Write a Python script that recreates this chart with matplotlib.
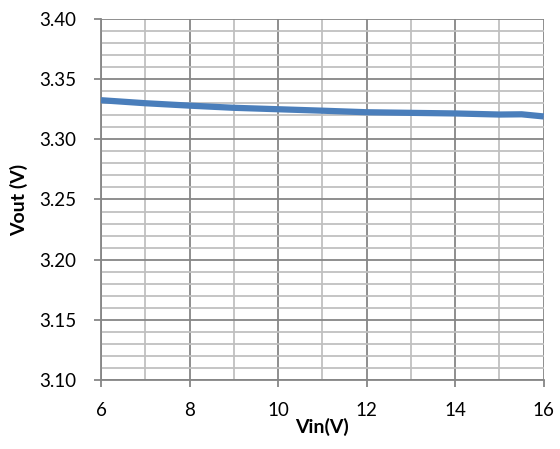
import matplotlib
matplotlib.use('Agg')
import matplotlib.pyplot as plt
from matplotlib.ticker import MultipleLocator

# Данные
vin = [6, 7, 8, 9, 10, 11, 12, 13, 14, 15, 15.5, 16]
vout = [3.3325, 3.3300, 3.3280, 3.3262, 3.3250, 3.3238, 3.3225, 3.3220, 3.3215, 3.3206, 3.3208, 3.3190]

plt.rcParams['font.family'] = ['Lato', 'DejaVu Sans']

fig = plt.figure(figsize=(5.6, 4.49), dpi=100)
ax = fig.add_axes([0.1804, 0.1537, 0.7906, 0.8040])

ax.plot(vin, vout, color='#4a7ebb', linewidth=4.5, solid_capstyle='butt', zorder=3)

ax.set_xlim(6, 16)
ax.set_ylim(3.10, 3.40)
ax.xaxis.set_major_locator(MultipleLocator(2))
ax.xaxis.set_minor_locator(MultipleLocator(1))
ax.yaxis.set_major_locator(MultipleLocator(0.05))
ax.yaxis.set_minor_locator(MultipleLocator(0.01))
ax.yaxis.set_major_formatter(plt.FormatStrFormatter('%.2f'))

# Сетка
ax.grid(which='major', color='#868686', linewidth=1.3)
ax.grid(which='minor', color='#c0c0c0', linewidth=1.3)
ax.set_axisbelow(True)

for side in ['top', 'right']:
    ax.spines[side].set_visible(False)
for side in ['left', 'bottom']:
    ax.spines[side].set_color('#868686')
    ax.spines[side].set_linewidth(1.3)

ax.tick_params(which='major', length=5, width=1.3, color='#868686', labelsize=13.5)
ax.tick_params(axis='y', pad=13)
ax.tick_params(axis='x', pad=11)
ax.tick_params(which='minor', length=0)

ax.set_xlabel('Vin(V)', fontsize=14, fontweight='bold')
ax.set_ylabel('Vout (V)', fontsize=14, fontweight='bold')
ax.xaxis.set_label_coords(0.5, -0.105)
ax.yaxis.set_label_coords(-0.165, 0.5)

fig.savefig('out.png', dpi=100)
